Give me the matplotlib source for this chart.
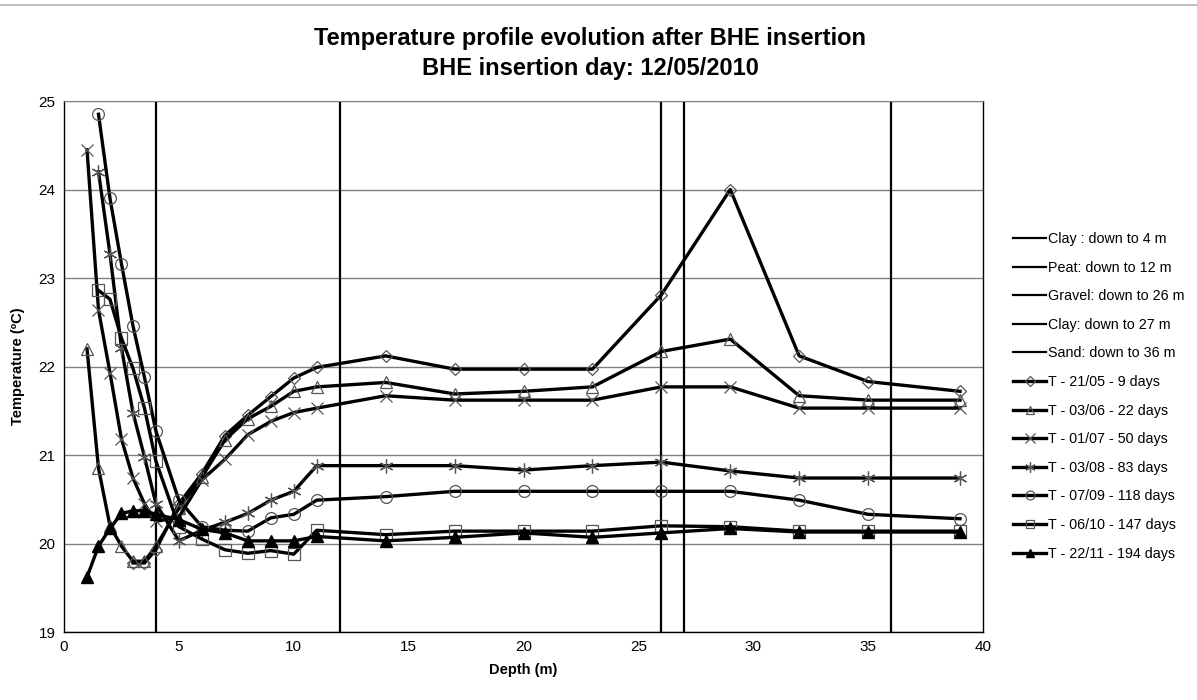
import matplotlib
matplotlib.use("Agg")
import matplotlib.pyplot as plt

plt.rcParams['font.family'] = ['Liberation Sans', 'DejaVu Sans']

# Soil layers: (label, bottom depth in m)
layer_labels = ["Clay : down to 4 m", "Peat: down to 12 m", "Gravel: down to 26 m",
                "Clay: down to 27 m", "Sand: down to 36 m"]
layer_depths = [4, 12, 26, 27, 36]

# Temperature profiles (depth in m, temperature in ºC)
d_2105 = [3, 3.5, 4, 5, 6, 7, 8, 9, 10, 11, 14, 17, 20, 23, 26, 29, 32, 35, 39]
t_2105 = [19.78, 19.78, 19.93, 20.45, 20.79, 21.22, 21.45, 21.66, 21.87, 21.99,
          22.12, 21.97, 21.97, 21.97, 22.81, 24.0, 22.12, 21.83, 21.72]

d_0306 = [1, 1.5, 2, 2.5, 3, 3.5, 4, 5, 6, 7, 8, 9, 10, 11, 14, 17, 20, 23, 26, 29, 32, 35, 39]
t_0306 = [22.2, 20.85, 20.2, 19.97, 19.8, 19.8, 19.97, 20.4, 20.75, 21.17, 21.41, 21.55,
          21.72, 21.77, 21.82, 21.69, 21.72, 21.77, 22.17, 22.31, 21.67, 21.62, 21.62]

d_0107 = [1, 1.5, 2, 2.5, 3, 3.5, 4, 5, 6, 7, 8, 9, 10, 11, 14, 17, 20, 23, 26, 29, 32, 35, 39]
t_0107 = [24.45, 22.64, 21.93, 21.18, 20.74, 20.45, 20.25, 20.3, 20.72, 20.95, 21.23, 21.38,
          21.48, 21.53, 21.67, 21.62, 21.62, 21.62, 21.77, 21.77, 21.53, 21.53, 21.53]

d_0308 = [1.5, 2, 2.5, 3, 3.5, 4, 5, 6, 7, 8, 9, 10, 11, 14, 17, 20, 23, 26, 29, 32, 35, 39]
t_0308 = [24.2, 23.27, 22.21, 21.48, 20.98, 20.45, 20.03, 20.15, 20.24, 20.34, 20.49,
          20.59, 20.88, 20.88, 20.88, 20.83, 20.88, 20.92, 20.82, 20.74, 20.74, 20.74]

d_0709 = [1.5, 2, 2.5, 3, 3.5, 4, 5, 6, 7, 8, 9, 10, 11, 14, 17, 20, 23, 26, 29, 32, 35, 39]
t_0709 = [24.85, 23.9, 23.16, 22.46, 21.88, 21.27, 20.49, 20.19, 20.15, 20.14, 20.29,
          20.33, 20.49, 20.53, 20.59, 20.59, 20.59, 20.59, 20.59, 20.49, 20.33, 20.28]

d_0610 = [1.5, 2, 2.5, 3, 3.5, 4, 5, 6, 7, 8, 9, 10, 11, 14, 17, 20, 23, 26, 29, 32, 35, 39]
t_0610 = [22.86, 22.76, 22.32, 21.98, 21.53, 20.93, 20.19, 20.05, 19.93, 19.89, 19.92,
          19.88, 20.15, 20.1, 20.14, 20.14, 20.14, 20.2, 20.19, 20.14, 20.14, 20.14]

d_2211 = [1, 1.5, 2, 2.5, 3, 3.5, 4, 5, 6, 7, 8, 9, 10, 11, 14, 17, 20, 23, 26, 29, 32, 35, 39]
t_2211 = [19.62, 19.97, 20.17, 20.34, 20.37, 20.37, 20.33, 20.27, 20.16, 20.12, 20.03, 20.03,
          20.03, 20.08, 20.03, 20.07, 20.12, 20.07, 20.12, 20.17, 20.13, 20.13, 20.13]

# asterisk marker: 6 arms
asterisk = (6, 2, 0)

series = [
    (d_2105, t_2105, "T - 21/05 - 9 days", "D", 6.5),
    (d_0306, t_0306, "T - 03/06 - 22 days", "^", 8),
    (d_0107, t_0107, "T - 01/07 - 50 days", "x", 9),
    (d_0308, t_0308, "T - 03/08 - 83 days", asterisk, 10),
    (d_0709, t_0709, "T - 07/09 - 118 days", "o", 8.5),
    (d_0610, t_0610, "T - 06/10 - 147 days", "s", 8.5),
    (d_2211, t_2211, "T - 22/11 - 194 days", None, 8),
]

fig = plt.figure(figsize=(11.97, 7.0), dpi=100)
ax = fig.add_axes([0.0535, 0.0971, 0.7677, 0.7586])

ax.set_xlim(0, 40)
ax.set_ylim(19, 25)
ax.set_xticks(range(0, 41, 5))
ax.set_yticks(range(19, 26))
ax.yaxis.grid(True, color='#808080', linewidth=1.0)
ax.set_axisbelow(True)

for lbl, dep in zip(layer_labels, layer_depths):
    ax.plot([dep, dep], [19, 25], color='black', linewidth=1.6, label=lbl)

for d, t, lbl, m, ms in series:
    if m is None:
        # last profile uses filled triangles
        ax.plot(d, t, color='black', linewidth=2.4, marker='^', markersize=ms,
                markerfacecolor='black', markeredgecolor='black', label=lbl)
    else:
        ax.plot(d, t, color='black', linewidth=2.4, marker=m, markersize=ms,
                markerfacecolor='none', markeredgecolor='#555555', markeredgewidth=0.9,
                label=lbl)

for side in ['left', 'bottom', 'right']:
    ax.spines[side].set_color('black')
    ax.spines[side].set_linewidth(1.0)
ax.spines['top'].set_color('#808080')
ax.tick_params(length=0, labelsize=11, pad=6)

ax.set_xlabel("Depth (m)", fontsize=10.5, fontweight='bold', labelpad=6)
ax.set_ylabel("Temperature (ºC)", fontsize=10.5, fontweight='bold', labelpad=10)

fig.text(0.493, 0.945, "Temperature profile evolution after BHE insertion",
         ha='center', va='center', fontsize=17, fontweight='bold')
fig.text(0.493, 0.902, "BHE insertion day: 12/05/2010",
         ha='center', va='center', fontsize=17, fontweight='bold')

ax.legend(loc='upper left', bbox_to_anchor=(1.022, 0.772), frameon=False,
          fontsize=10.3, handlelength=2.3, labelspacing=1.02, handletextpad=0.15,
          borderpad=0.2, markerscale=0.75)

# thin frame line across the top of the image
fig.add_artist(plt.Line2D([0, 1], [0.993, 0.993], color='#b0b0b0', linewidth=1.2))

fig.savefig("out.png", dpi=100)
